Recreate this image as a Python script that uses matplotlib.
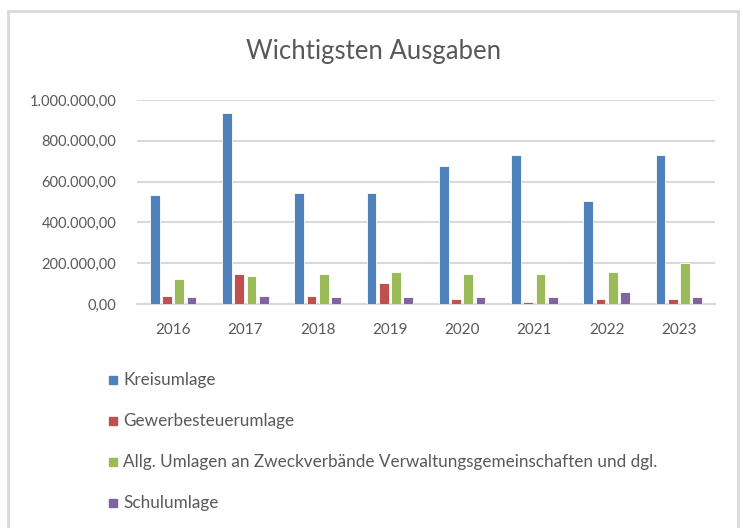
import matplotlib
matplotlib.use("Agg")
import matplotlib.pyplot as plt
import numpy as np
from matplotlib.patches import Rectangle
from matplotlib.ticker import FuncFormatter

years = ["2016", "2017", "2018", "2019", "2020", "2021", "2022", "2023"]
kreisumlage = [534000, 935000, 543000, 543000, 675000, 730000, 503000, 730000]
gewerbesteuerumlage = [41000, 146000, 41000, 104000, 26000, 11000, 26000, 26000]
allg_umlagen = [121000, 136000, 146000, 158000, 146000, 146000, 158000, 200000]
schulumlage = [33000, 41000, 33000, 33000, 33000, 33000, 57000, 33000]
series_names = ["Kreisumlage", "Gewerbesteuerumlage",
                "Allg. Umlagen an Zweckverbände Verwaltungsgemeinschaften und dgl.",
                "Schulumlage"]
colors = ["#4F81BD", "#C0504D", "#9BBB59", "#8064A2"]

plt.rcParams['font.family'] = ['Lato', 'DejaVu Sans']

W, H = 743, 528
fig = plt.figure(figsize=(W/100, H/100), dpi=100)
fig.patch.set_facecolor("white")

# chart frame
fig.patches.append(Rectangle((8/W, -0.02), (738-8)/W, 1.02 - 11/H, transform=fig.transFigure,
                             fill=False, edgecolor="#D9D9D9", lw=2))

ax = fig.add_axes([137/W, 1 - 304/H, (715-137)/W, (304-100)/H])
x = np.arange(len(years))
pitch = 0.17
width = 0.135
data = [kreisumlage, gewerbesteuerumlage, allg_umlagen, schulumlage]
for i, (vals, c, name) in enumerate(zip(data, colors, series_names)):
    ax.bar(x + (i - 1.5) * pitch, vals, width=width, color=c, edgecolor="white",
           linewidth=0.6, label=name, zorder=3)

ax.set_xlim(-0.5, len(years) - 0.5)
ax.set_ylim(0, 1000000)
ax.set_yticks(np.arange(0, 1000001, 200000))
ax.yaxis.set_major_formatter(FuncFormatter(
    lambda v, p: f"{v:,.2f}".replace(",", "X").replace(".", ",").replace("X", ".")))
ax.set_xticks(x)
ax.set_xticklabels(years)
ax.grid(axis="y", color="#D9D9D9", lw=1.5, zorder=0)
for s in ["top", "right", "left"]:
    ax.spines[s].set_visible(False)
ax.spines["bottom"].set_color("#D9D9D9")
ax.spines["bottom"].set_linewidth(1.5)
ax.tick_params(axis="both", length=0, labelsize=10.5, labelcolor="#595959")
ax.tick_params(axis="y", pad=15)
ax.tick_params(axis="x", labelsize=11, pad=14)

fig.text(374/W, 1 - 51/H, "Wichtigsten Ausgaben", ha="center", va="center",
         fontsize=18.5, color="#595959")

# legend: vertical list below
leg_y = [380, 421, 462, 503]
for name, c, yy in zip(series_names, colors, leg_y):
    fig.patches.append(Rectangle((109/W, 1 - (yy + 4)/H), 8/W, 8/H,
                                 transform=fig.transFigure, color=c))
    fig.text(123/W, 1 - yy/H, name, ha="left", va="center", fontsize=12.3, color="#595959")

fig.savefig("out.png", dpi=100)
